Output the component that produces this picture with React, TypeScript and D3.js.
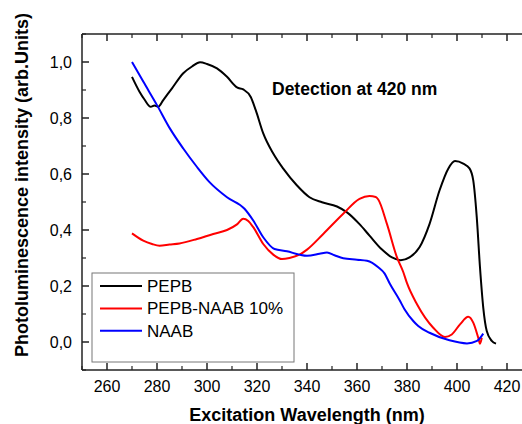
import React from "react";
import * as d3 from "d3";

const pepbX = [270, 273, 275, 277.5, 279, 280.5, 282.5, 286, 290.5, 294, 297.2, 300, 304, 308, 312, 314.5, 317.5, 319.5, 322.5, 326.5, 330.5, 336, 341, 346, 352, 356, 361, 365, 370, 374, 377.5, 381, 385, 389, 393, 396.5, 399.2, 402.5, 405, 406.5, 407.9, 409.2, 410.5, 411.9, 413.9, 415.6];
const pepbY = [0.947, 0.894, 0.866, 0.84, 0.845, 0.84, 0.864, 0.906, 0.96, 0.984, 0.999, 0.993, 0.977, 0.947, 0.909, 0.902, 0.875, 0.828, 0.745, 0.673, 0.619, 0.559, 0.517, 0.499, 0.484, 0.463, 0.421, 0.38, 0.33, 0.302, 0.292, 0.302, 0.338, 0.421, 0.541, 0.619, 0.646, 0.637, 0.62, 0.577, 0.446, 0.266, 0.123, 0.039, 0.004, -0.006];

const mixX = [270, 274.5, 278, 281, 285, 289, 296, 302.5, 308, 312, 314.5, 316.5, 318.5, 322.5, 326.5, 330, 333, 337, 340, 346.5, 354.5, 361, 365, 367.5, 368.5, 372, 376, 378.5, 380, 384, 390.5, 395.2, 397.9, 401.2, 404.5, 406.5, 408.5, 409.2, 409.9];
const mixY = [0.388, 0.362, 0.35, 0.344, 0.348, 0.352, 0.368, 0.386, 0.4, 0.42, 0.44, 0.432, 0.41, 0.35, 0.312, 0.296, 0.3, 0.312, 0.33, 0.386, 0.458, 0.511, 0.521, 0.518, 0.509, 0.421, 0.302, 0.25, 0.21, 0.135, 0.051, 0.018, 0.027, 0.063, 0.09, 0.069, 0.015, -0.006, 0.015];

const naabX = [270, 274.5, 280, 285.2, 290.5, 296, 301, 308, 315, 318.5, 322.5, 327, 332, 337, 340, 345, 348, 351, 354.5, 360, 364, 368.5, 371, 373.2, 377, 379, 382.5, 384.5, 389, 397, 404, 408, 410.5];
const naabY = [1.0, 0.93, 0.846, 0.762, 0.691, 0.625, 0.571, 0.517, 0.476, 0.434, 0.374, 0.332, 0.324, 0.312, 0.308, 0.315, 0.32, 0.31, 0.299, 0.294, 0.29, 0.267, 0.245, 0.207, 0.15, 0.117, 0.075, 0.057, 0.033, 0.006, -0.005, 0.004, 0.03];

const seriesNames = ["PEPB", "PEPB-NAAB 10%", "NAAB"];
const seriesColors = ["#000000", "#ff0000", "#0000ff"];

const xTicks = [260, 280, 300, 320, 340, 360, 380, 400, 420];
const xMinor = [250, 270, 290, 310, 330, 350, 370, 390, 410, 430];
const yTicks = [0, 0.2, 0.4, 0.6, 0.8, 1.0];
const yMinor = [-0.1, 0.1, 0.3, 0.5, 0.7, 0.9, 1.1];

const W = 522;
const H = 424;
const L = 82, R = 532, T = 34, B = 370;
const FONT = "Arial, 'Liberation Sans', sans-serif";

export default function App() {
  const x = d3.scaleLinear().domain([250, 430]).range([L, R]);
  const y = d3.scaleLinear().domain([-0.1, 1.1]).range([B, T]);
  const line = d3
    .line<[number, number]>()
    .x((d) => x(d[0]))
    .y((d) => y(d[1]))
    .curve(d3.curveMonotoneX);
  const series = [
    pepbX.map((v, i) => [v, pepbY[i]] as [number, number]),
    mixX.map((v, i) => [v, mixY[i]] as [number, number]),
    naabX.map((v, i) => [v, naabY[i]] as [number, number]),
  ];
  const fmt = (v: number) => d3.format(".1f")(v).replace(".", ",");
  const axisColor = "#222";

  return (
    <svg
      width={W}
      height={H}
      style={{ position: "absolute", left: 0, top: 0, background: "#fff" }}
      fontFamily={FONT}
    >
      <rect x={0} y={0} width={W} height={H} fill="#fff" />
      {/* curves */}
      {series.map((s, i) => (
        <path key={i} d={line(s) || ""} fill="none" stroke={seriesColors[i]} strokeWidth={2} strokeLinejoin="round" />
      ))}
      {/* axes lines */}
      <line x1={L} x2={L} y1={T} y2={B} stroke={axisColor} strokeWidth={1.5} />
      <line x1={L} x2={R} y1={B} y2={B} stroke={axisColor} strokeWidth={1.5} />
      <line x1={L} x2={R} y1={T} y2={T} stroke={axisColor} strokeWidth={1.5} />
      <line x1={R} x2={R} y1={T} y2={B} stroke={axisColor} strokeWidth={1.5} />
      {/* x ticks */}
      {xTicks.map((t) => (
        <g key={"xt" + t}>
          <line x1={x(t)} x2={x(t)} y1={B} y2={B - 7} stroke={axisColor} strokeWidth={1.5} />
          <line x1={x(t)} x2={x(t)} y1={T} y2={T + 7} stroke={axisColor} strokeWidth={1.5} />
          <text x={x(t)} y={392} fontSize={16} textAnchor="middle" fill="#000">
            {t}
          </text>
        </g>
      ))}
      {xMinor.map((t) => (
        <g key={"xm" + t}>
          <line x1={x(t)} x2={x(t)} y1={B} y2={B - 4} stroke={axisColor} strokeWidth={1.2} />
          <line x1={x(t)} x2={x(t)} y1={T} y2={T + 4} stroke={axisColor} strokeWidth={1.2} />
        </g>
      ))}
      {/* y ticks */}
      {yTicks.map((t) => (
        <g key={"yt" + t}>
          <line x1={L} x2={L + 7} y1={y(t)} y2={y(t)} stroke={axisColor} strokeWidth={1.5} />
          <text x={72} y={y(t) + 5.7} fontSize={16} textAnchor="end" fill="#000">
            {fmt(t)}
          </text>
        </g>
      ))}
      {yMinor.map((t) => (
        <line key={"ym" + t} x1={L} x2={L + 4} y1={y(t)} y2={y(t)} stroke={axisColor} strokeWidth={1.2} />
      ))}
      {/* axis titles */}
      <text x={(L + R) / 2} y={421} fontSize={18} fontWeight="bold" textAnchor="middle" fill="#000">
        Excitation Wavelength (nm)
      </text>
      <text
        transform={`translate(28,${185}) rotate(-90)`}
        fontSize={18}
        fontWeight="bold"
        textAnchor="middle"
        fill="#000"
      >
        Photoluminescence intensity (arb.Units)
      </text>
      {/* annotation */}
      <text x={272} y={95} fontSize={17.5} fontWeight="bold" fill="#000">
        Detection at 420 nm
      </text>
      {/* legend */}
      <rect x={92} y={273} width={202} height={89} fill="#fff" stroke="#777" strokeWidth={1} />
      {seriesNames.map((n, i) => (
        <g key={n}>
          <line x1={100} x2={142} y1={286 + i * 22.4} y2={286 + i * 22.4} stroke={seriesColors[i]} strokeWidth={2} />
          <text x={147} y={292 + i * 22.4} fontSize={17} fill="#000">
            {n}
          </text>
        </g>
      ))}
    </svg>
  );
}
